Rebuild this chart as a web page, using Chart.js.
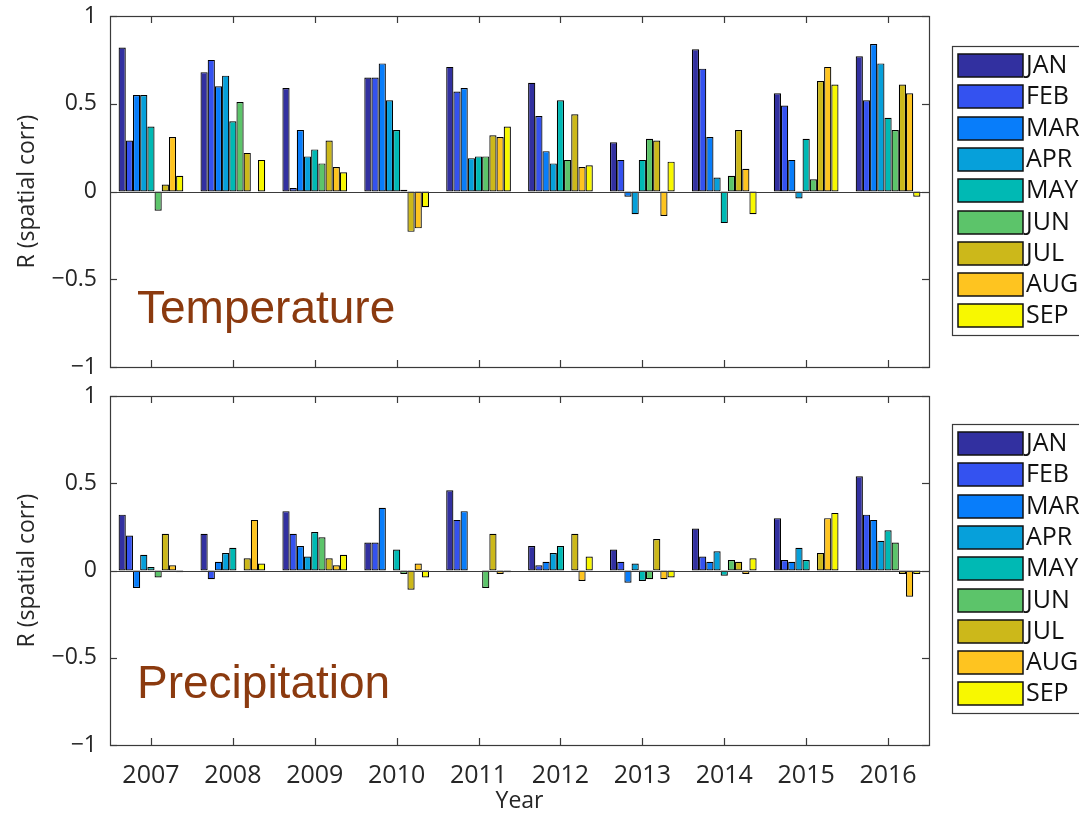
<!DOCTYPE html>
<html>
<head>
<meta charset="utf-8">
<title>Spatial correlation by month</title>
<script src="https://cdn.jsdelivr.net/npm/chart.js@4.4.1/dist/chart.umd.min.js"></script>
<style>
    body { margin: 0; background: #fff; width: 1079px; height: 815px; overflow: hidden; position: relative; }
    .panel { position: absolute; left: 0; width: 1079px; }
    #tempPanel { top: 0; height: 380px; }
    #precPanel { top: 380px; height: 435px; }
</style>
</head>
<body>
<div class="panel" id="tempPanel"><canvas id="tempChart" width="1079" height="380"></canvas></div>
<div class="panel" id="precPanel"><canvas id="precChart" width="1079" height="435"></canvas></div>
<script>
// categories
const years = ['2007', '2008', '2009', '2010', '2011', '2012', '2013', '2014', '2015', '2016'];
const months = ['JAN', 'FEB', 'MAR', 'APR', 'MAY', 'JUN', 'JUL', 'AUG', 'SEP'];
const monthColors = [
    'rgb(50,48,160)', 'rgb(52,82,240)', 'rgb(8,125,250)', 'rgb(6,160,218)', 'rgb(0,185,180)',
    'rgb(92,196,106)', 'rgb(204,184,26)', 'rgb(254,196,32)', 'rgb(248,248,0)'
];
const yTicks = [-1, -0.5, 0, 0.5, 1];

// temperature R, one array per month (2007..2016)
const tempJan = [0.82, 0.68, 0.59, 0.65, 0.71, 0.62, 0.28, 0.81, 0.56, 0.77];
const tempFeb = [0.29, 0.75, 0.02, 0.65, 0.57, 0.43, 0.18, 0.70, 0.49, 0.52];
const tempMar = [0.55, 0.60, 0.35, 0.73, 0.59, 0.23, -0.03, 0.31, 0.18, 0.84];
const tempApr = [0.55, 0.66, 0.20, 0.52, 0.19, 0.16, -0.13, 0.08, -0.04, 0.73];
const tempMay = [0.37, 0.40, 0.24, 0.35, 0.20, 0.52, 0.18, -0.18, 0.30, 0.42];
const tempJun = [-0.11, 0.51, 0.16, 0.01, 0.20, 0.18, 0.30, 0.09, 0.07, 0.35];
const tempJul = [0.04, 0.22, 0.29, -0.23, 0.32, 0.44, 0.29, 0.35, 0.63, 0.61];
const tempAug = [0.31, 0, 0.14, -0.21, 0.31, 0.14, -0.14, 0.13, 0.71, 0.56];
const tempSep = [0.09, 0.18, 0.11, -0.09, 0.37, 0.15, 0.17, -0.13, 0.61, -0.03];

// precipitation R, one array per month (2007..2016)
const precJan = [0.32, 0.21, 0.34, 0.16, 0.46, 0.14, 0.12, 0.24, 0.30, 0.54];
const precFeb = [0.20, -0.05, 0.21, 0.16, 0.29, 0.03, 0.05, 0.08, 0.06, 0.32];
const precMar = [-0.10, 0.05, 0.14, 0.36, 0.34, 0.05, -0.07, 0.05, 0.05, 0.29];
const precApr = [0.09, 0.10, 0.08, 0, 0, 0.10, 0.04, 0.11, 0.13, 0.17];
const precMay = [0.02, 0.13, 0.22, 0.12, 0, 0.14, -0.06, -0.03, 0.06, 0.23];
const precJun = [-0.04, 0, 0.19, -0.02, -0.10, 0, -0.05, 0.06, 0, 0.16];
const precJul = [0.21, 0.07, 0.07, -0.11, 0.21, 0.21, 0.18, 0.05, 0.10, -0.02];
const precAug = [0.03, 0.29, 0.03, 0.04, -0.02, -0.06, -0.05, -0.02, 0.30, -0.15];
const precSep = [-0.01, 0.04, 0.09, -0.04, -0.01, 0.08, -0.04, 0.07, 0.33, -0.02];

const tempSeries = [tempJan, tempFeb, tempMar, tempApr, tempMay, tempJun, tempJul, tempAug, tempSep];
const precSeries = [precJan, precFeb, precMar, precApr, precMay, precJun, precJul, precAug, precSep];

const AXIS_COLOR = '#3a3a3a';
const TEXT_COLOR = '#262626';
const FONT = '"Open Sans", "Noto Sans", sans-serif';

// box around the axes, zero baseline and inward tick marks
const axesFrame = {
    id: 'axesFrame',
    afterDatasetsDraw(chart) {
        const { ctx, chartArea: a, scales: { x, y } } = chart;
        const line = (x1, y1, x2, y2) => { ctx.beginPath(); ctx.moveTo(x1, y1); ctx.lineTo(x2, y2); ctx.stroke(); };
        ctx.save();
        ctx.strokeStyle = AXIS_COLOR;
        ctx.lineWidth = 1.2;
        const y0 = Math.round(y.getPixelForValue(0)) + 0.5;
        line(a.left, y0, a.right, y0);
        ctx.strokeRect(Math.round(a.left) + 0.5, Math.round(a.top) + 0.5, Math.round(a.width), Math.round(a.height));
        x.ticks.forEach((t, i) => {
            const px = Math.round(x.getPixelForTick(i)) + 0.5;
            line(px, a.top, px, a.top + 7);
            line(px, a.bottom, px, a.bottom - 7);
        });
        y.ticks.forEach((t, i) => {
            const py = Math.round(y.getPixelForTick(i)) + 0.5;
            line(a.left, py, a.left + 7, py);
            line(a.right, py, a.right - 7, py);
        });
        ctx.restore();
    }
};

// framed month legend to the right of the axes
const boxLegend = {
    id: 'boxLegend',
    afterDraw(chart, args, opts) {
        const { ctx } = chart;
        const left = 952, top = opts.top;
        ctx.save();
        ctx.fillStyle = '#fff';
        ctx.fillRect(left, top, 140, 289);
        ctx.strokeStyle = AXIS_COLOR;
        ctx.lineWidth = 1.2;
        ctx.strokeRect(left + 0.5, top + 0.5, 140, 289);
        ctx.font = '25px ' + FONT;
        ctx.textBaseline = 'middle';
        chart.data.datasets.forEach((ds, i) => {
            const sy = Math.round(top + 8 + i * 31.3);
            ctx.fillStyle = ds.backgroundColor;
            ctx.fillRect(958, sy, 65, 23);
            ctx.strokeStyle = '#111';
            ctx.lineWidth = 1.5;
            ctx.strokeRect(958, sy, 65, 23);
            ctx.fillStyle = '#111';
            ctx.fillText(ds.label, 1026, sy + 12);
        });
        ctx.restore();
    }
};

// variable name written inside the axes
const panelLabel = {
    id: 'panelLabel',
    afterDraw(chart, args, opts) {
        const { ctx, chartArea: a, scales: { y } } = chart;
        ctx.save();
        ctx.font = '46px "Liberation Sans", Arial, sans-serif';
        ctx.fillStyle = '#8b3a0f';
        ctx.textBaseline = 'alphabetic';
        ctx.fillText(opts.text, a.left + 27, y.getPixelForValue(opts.value));
        ctx.restore();
    }
};

function makeChart(canvasId, series, opts) {
    const ctx = document.getElementById(canvasId).getContext('2d');
    return new Chart(ctx, {
        type: 'bar',
        data: {
            labels: years,
            datasets: months.map((m, i) => ({
                label: m,
                data: series[i],
                backgroundColor: monthColors[i],
                borderColor: '#000',
                borderWidth: 1.2,
                borderSkipped: false,
                barPercentage: 1.0,
                categoryPercentage: 0.79
            }))
        },
        options: {
            responsive: false,
            animation: false,
            layout: { autoPadding: false, padding: { top: 16, right: 150, bottom: 0, left: 0 } },
            scales: {
                x: {
                    grid: { display: false },
                    border: { display: false },
                    ticks: {
                        display: opts.showYears,
                        color: TEXT_COLOR,
                        font: { family: FONT, size: 25 },
                        padding: 8,
                        maxRotation: 0
                    },
                    title: {
                        display: opts.showYears,
                        text: 'Year',
                        color: TEXT_COLOR,
                        font: { family: FONT, size: 23 },
                        padding: { top: 0, bottom: 0 }
                    },
                    afterFit: scale => {
                        scale.height = opts.xHeight;
                        scale.paddingLeft = scale.paddingRight = 0;
                    }
                },
                y: {
                    min: -1,
                    max: 1,
                    grid: { display: false, drawTicks: false },
                    border: { display: false },
                    afterBuildTicks: scale => { scale.ticks = yTicks.map(v => ({ value: v })); },
                    ticks: {
                        color: TEXT_COLOR,
                        font: { family: FONT, size: 23 },
                        padding: 13,
                        callback: v => v < 0 ? '\u2212' + Math.abs(v) : String(v)
                    },
                    title: {
                        display: true,
                        text: 'R (spatial corr)',
                        color: TEXT_COLOR,
                        font: { family: FONT, size: 23 },
                        padding: { top: 14, bottom: 0 }
                    },
                    afterFit: scale => {
                        scale.width = 110;
                        // labels at ±1 may overhang the plot box
                        scale.paddingTop = scale.paddingBottom = 0;
                    }
                }
            },
            plugins: {
                legend: { display: false },
                tooltip: { enabled: false },
                boxLegend: { top: opts.legendTop },
                panelLabel: { text: opts.label, value: opts.labelValue }
            }
        },
        plugins: [axesFrame, boxLegend, panelLabel]
    });
}

makeChart('tempChart', tempSeries, { showYears: false, xHeight: 13, legendTop: 46, label: 'Temperature', labelValue: -0.75 });
makeChart('precChart', precSeries, { showYears: true, xHeight: 70, legendTop: 44, label: 'Precipitation', labelValue: -0.73 });
</script>
</body>
</html>
